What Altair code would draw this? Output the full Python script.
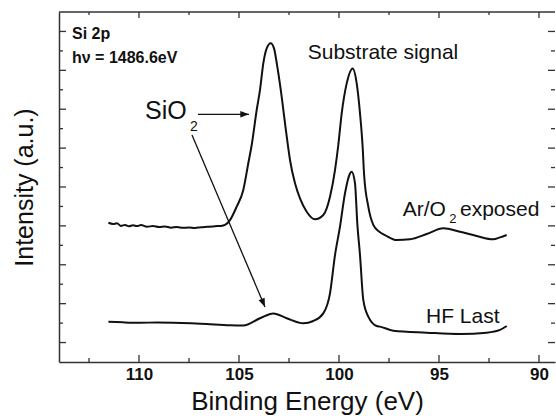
import altair as alt
import pandas as pd

# ---- data (binding energy in eV, intensity in a.u.) ----
ar_ev = [111.53, 111.3, 111.1, 110.9, 110.7, 110.5, 110.3, 110.1, 109.9, 109.6, 109.3, 109.0,
         108.7, 108.4, 108.1, 107.8, 107.5, 107.2, 106.9, 106.6, 106.3, 106.1, 105.9, 105.7,
         105.45, 105.115, 104.785, 104.535, 104.365, 104.115, 103.95, 103.785, 103.615, 103.415,
         103.25, 103.085, 102.865, 102.7, 102.535, 102.45, 102.2, 101.95, 101.615, 101.2,
         100.785, 100.45, 100.2, 100.035, 99.865, 99.615, 99.315, 99.115, 98.95, 98.815, 98.75,
         98.535, 98.285, 97.985, 97.7, 97.115, 96.45, 95.615, 94.785, 93.95, 93.115, 92.285,
         91.95, 91.615]
ar_int = [7.16, 7.10, 7.13, 7.00, 7.05, 6.98, 7.03, 6.99, 7.04, 6.96, 6.99, 6.94,
          6.97, 6.91, 6.94, 6.90, 6.92, 6.89, 6.93, 6.95, 6.97, 6.99, 7.00, 7.05,
          7.30, 7.99, 8.85, 10.22, 11.16, 12.96, 13.99, 15.36, 16.13, 16.39,
          16.13, 15.19, 13.64, 12.28, 10.99, 10.39, 9.19, 8.42, 7.73, 7.34,
          7.56, 8.50, 9.87, 11.16, 12.79, 14.33, 15.10, 14.33, 12.79, 11.01, 9.71,
          7.99, 7.05, 6.70, 6.53, 6.27, 6.31, 6.58, 6.88, 6.70, 6.48, 6.31,
          6.41, 6.53]

hf_ev = [111.53, 110.8, 109.95, 109.1, 108.285, 107.4, 106.615, 105.45, 104.785, 103.95,
         103.285, 102.615, 101.785, 101.285, 100.785, 100.45, 100.2, 99.95, 99.7, 99.45,
         99.365, 99.2, 99.085, 98.95, 98.785, 98.535, 98.115, 97.95, 97.285, 95.615,
         93.95, 92.615, 91.95, 91.615]
hf_int = [2.07, 2.04, 2.02, 2.03, 2.02, 1.99, 1.95, 1.89, 1.88, 2.25,
          2.50, 2.25, 1.99, 2.11, 2.50, 3.53, 5.50, 6.96, 8.68, 9.70,
          9.79, 9.19, 7.13, 5.50, 3.19, 2.33, 1.85, 1.82, 1.61, 1.51,
          1.44, 1.51, 1.65, 1.85]

x_major = [110, 105, 100, 95, 90]
x_minor = [112.5, 107.5, 102.5, 97.5, 92.5]
y_major = [1, 3, 5, 7, 9, 11, 13, 15, 17]
y_minor = [2, 4, 6, 8, 10, 12, 14, 16]

W, H = 496, 350
FONT = "Liberation Sans"
INK = "#111111"
AXC = "#333333"

xscale = alt.Scale(domain=[89.2, 114], reverse=True, nice=False, zero=False)
yscale = alt.Scale(domain=[0, 18], nice=False, zero=False)

xaxis = alt.Axis(values=x_major, ticks=False, domain=True, domainColor=AXC,
                 domainWidth=1.5, grid=False, labelFont=FONT, labelFontWeight="bold",
                 labelFontSize=17, labelColor=INK, labelPadding=4,
                 title="Binding Energy (eV)", titleFont=FONT, titleFontSize=26,
                 titleFontWeight="normal", titleColor=INK, titlePadding=6)
yaxis = alt.Axis(values=y_major, ticks=False, labels=False, domain=True,
                 domainColor=AXC, domainWidth=1.5, grid=False,
                 title="Intensity (a.u.)", titleFont=FONT, titleFontSize=25,
                 titleFontWeight="normal", titleColor=INK, titlePadding=22)


def X(field):
    return alt.X(field, scale=xscale, axis=xaxis)


def Y(field):
    return alt.Y(field, scale=yscale, axis=yaxis)


curves = pd.concat([
    pd.DataFrame({"ev": ar_ev, "intensity": ar_int, "series": "Ar/O2 exposed"}),
    pd.DataFrame({"ev": hf_ev, "intensity": hf_int, "series": "HF Last"}),
])

lines = alt.Chart(curves).mark_line(color=INK, strokeWidth=2, interpolate="monotone").encode(
    x=X("ev:Q"), y=Y("intensity:Q"), detail="series:N")

# frame top line
top_line = alt.Chart(pd.DataFrame({"a": [0]})).mark_rule(color=AXC, strokeWidth=1.5).encode(
    x=alt.value(0), x2=alt.value(W), y=alt.value(0))


def xticks(vals, y0, y1):
    return alt.Chart(pd.DataFrame({"v": vals})).mark_rule(color=AXC, strokeWidth=1.3).encode(
        x=X("v:Q"), y=alt.value(y0), y2=alt.value(y1))


def yticks(vals, x0, x1):
    return alt.Chart(pd.DataFrame({"v": vals})).mark_rule(color=AXC, strokeWidth=1.3).encode(
        y=Y("v:Q"), x=alt.value(x0), x2=alt.value(x1))


ticks = [
    xticks(x_major, H, H - 7), xticks(x_minor, H, H - 4),
    xticks(x_major, 0, 6), xticks(x_minor, 0, 3),
    yticks(y_major, 0, 7), yticks(y_minor, 0, 4),
    yticks(y_major, W, W - 7), yticks(y_minor, W, W - 4),
]

# annotations (positions in data units)
bold_labels = pd.DataFrame({
    "ev": [113.35, 113.35], "intensity": [16.62, 15.39],
    "text": ["Si 2p", "h\u03bd = 1486.6eV"],
})
bold_text = alt.Chart(bold_labels).mark_text(
    font=FONT, fontWeight="bold", fontSize=16, align="left", baseline="alphabetic", color=INK
).encode(x=X("ev:Q"), y=Y("intensity:Q"), text="text:N")

ann = pd.DataFrame({
    "ev": [109.7, 107.45, 101.565, 96.815, 94.485, 93.95, 95.65],
    "intensity": [12.48, 11.90, 15.57, 7.51, 7.13, 7.51, 2.02],
    "text": ["SiO", "2", "Substrate signal", "Ar/O", "2", "exposed", "HF Last"],
    "fs": [25, 14, 21, 21, 13, 21, 21],
})
ann_text = alt.Chart(ann).mark_text(
    font=FONT, align="left", baseline="alphabetic", color=INK
).encode(x=X("ev:Q"), y=Y("intensity:Q"), text="text:N",
         size=alt.Size("fs:Q", scale=None, legend=None))

# arrows
arrows = pd.DataFrame({
    "x0": [107.05, 107.35], "y0": [12.74, 11.67],
    "x1": [104.5, 103.7], "y1": [12.74, 2.83],
    "ang": [90, 157],
})
arrow_lines = alt.Chart(arrows).mark_rule(color=INK, strokeWidth=1.3).encode(
    x=X("x0:Q"), y=Y("y0:Q"), x2="x1:Q", y2="y1:Q")
arrow_heads = alt.Chart(arrows).mark_point(
    shape="M0,0L-0.38,1L0.38,1Z", filled=True, color=INK, size=300, opacity=1
).encode(x=X("x1:Q"), y=Y("y1:Q"), angle=alt.Angle("ang:Q", scale=None))

chart = alt.layer(lines, top_line, *ticks, bold_text, ann_text, arrow_lines, arrow_heads).properties(
    width=W, height=H,
    autosize=alt.AutoSizeParams(type="none"),
    padding={"left": 59, "top": 12, "right": 1, "bottom": 54},
).configure_view(stroke=None)

chart.save("out.html", embed_options={"renderer": "svg", "actions": False})
